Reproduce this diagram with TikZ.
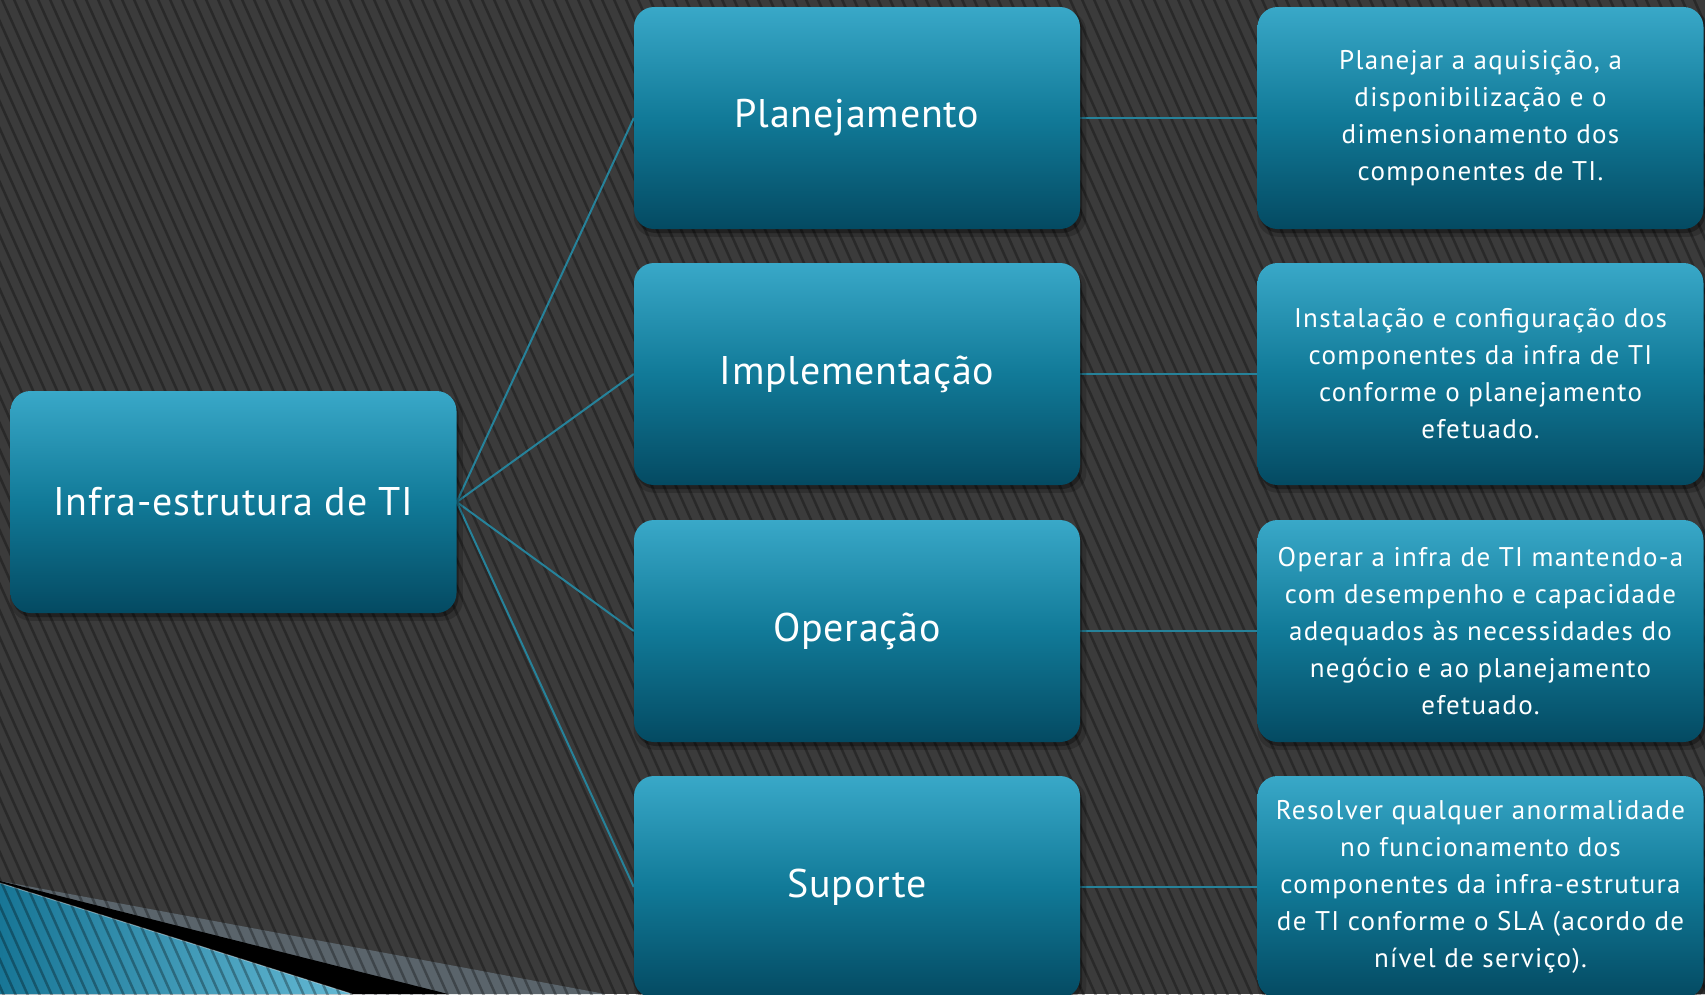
\documentclass[tikz,border=0pt]{standalone}
\usepackage{fontspec}
\setmainfont{PT Sans}
\usetikzlibrary{shadows}
\pgfdeclarelayer{bglayer}
\pgfdeclarelayer{connlayer}
\pgfsetlayers{bglayer,connlayer,main}
\definecolor{bgc}{RGB}{59,59,59}
\definecolor{boxtop}{RGB}{57,168,200}
\definecolor{boxmid}{RGB}{17,122,152}
\definecolor{boxbot}{RGB}{4,74,98}
\definecolor{conncol}{RGB}{38,130,154}
\definecolor{decogray}{RGB}{90,100,107}
\definecolor{decoblueA}{RGB}{24,118,150}
\definecolor{decoblueB}{RGB}{100,185,212}
\tikzset{
  stripe/.style={black, opacity=0.3, line width=2.5pt},
  boxbase/.style={rounded corners=20pt, minimum width=446pt, minimum height=222pt,
    top color=boxtop, bottom color=boxbot, middle color=boxmid, text=white, align=center,
    drop shadow={shadow xshift=2pt, shadow yshift=-4pt, opacity=0.30, fill=black},
    drop shadow={shadow xshift=3pt, shadow yshift=-6pt, opacity=0.18, fill=black, shadow scale=1.015}},
  bigbox/.style={boxbase, font=\fontsize{40}{48}\selectfont\addfontfeatures{LetterSpace=2}},
  infobox/.style={boxbase, font=\fontsize{27}{37}\selectfont\addfontfeatures{LetterSpace=5}},
  conn/.style={draw=conncol, line width=2pt}
}
\begin{document}
\begin{tikzpicture}[x=1pt, y=-1pt]
\useasboundingbox (0,0) rectangle (1705,994);
\clip (0,0) rectangle (1705,994);
\begin{pgfonlayer}{bglayer}
% background
\fill[bgc] (0,0) rectangle (1705,994);
% corner decoration
\fill[decogray] (0,881) -- (605,994) -- (0,994) -- cycle;
\fill[black] (0,881) -- (448,994) -- (0,994) -- cycle;
\shade[left color=decoblueA, right color=decoblueB] (0,883) -- (352,994) -- (0,994) -- cycle;
\draw[white, opacity=0.4, line width=1pt] (0,883) -- (352,994);
% stripes
\foreach \i in {-45,...,145}{
  \draw[stripe] (\i*12,-5) -- (\i*12+450,1000);
}
\end{pgfonlayer}
% nodes
\node[bigbox] (root) at (233.5,502) {Infra-estrutura de TI};
\node[bigbox] (m1) at (857,118) {Planejamento};
\node[bigbox] (m2) at (857,374) {Implementação};
\node[bigbox] (m3) at (857,631) {Operação};
\node[bigbox] (m4) at (857,887) {Suporte};
\node[infobox] (r1) at (1480.5,118) {Planejar a aquisição, a\\disponibilização e o\\dimensionamento dos\\componentes de TI.};
\node[infobox] (r2) at (1480.5,374) {Instalação e configuração dos\\componentes da infra de TI\\conforme o planejamento\\efetuado.};
\node[infobox] (r3) at (1480.5,631) {Operar a infra de TI mantendo-a\\com desempenho e capacidade\\adequados às necessidades do\\negócio e ao planejamento\\efetuado.};
\node[infobox] (r4) at (1480.5,887) {Resolver qualquer anormalidade\\no funcionamento dos\\componentes da infra-estrutura\\de TI conforme o SLA (acordo de\\nível de serviço).};
% connectors (behind boxes)
\begin{pgfonlayer}{connlayer}
\foreach \m in {m1,m2,m3,m4}{
  \draw[conn] (root.east) -- (\m.west);
}
\draw[conn] (m1.east) -- (r1.west);
\draw[conn] (m2.east) -- (r2.west);
\draw[conn] (m3.east) -- (r3.west);
\draw[conn] (m4.east) -- (r4.west);
\end{pgfonlayer}
\end{tikzpicture}
\end{document}
